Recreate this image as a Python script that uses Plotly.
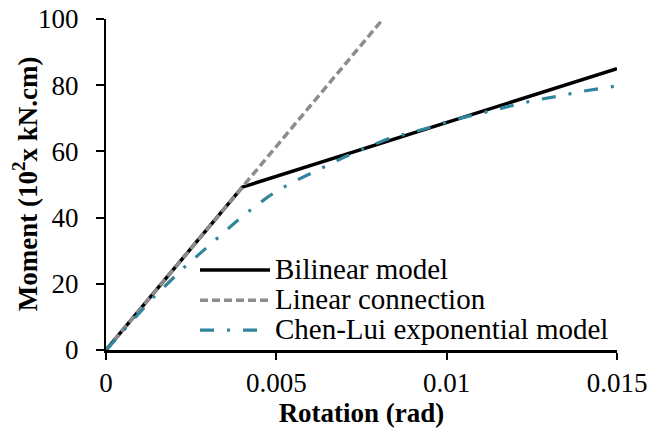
import plotly.graph_objects as go

# Rotation (rad) and moment (10^2 x kN.cm) for each connection model
bilinear_rot = [0.0, 0.004, 0.015]
bilinear_mom = [0.0, 49.2, 85.0]

linear_rot = [0.0, 0.00813]
linear_mom = [0.0, 100.0]

chen_lui_rot = [0.0, 0.0006, 0.0014, 0.0023, 0.0028, 0.0033, 0.0038, 0.0043,
                0.0048, 0.0054, 0.0060, 0.0065, 0.0070, 0.0077, 0.0083, 0.0089,
                0.0096, 0.0101, 0.0108, 0.0114, 0.0120, 0.0126, 0.0133, 0.0140,
                0.0150]
chen_lui_mom = [0.0, 7.0, 16.0, 25.0, 29.6, 34.0, 38.6, 42.8,
                46.6, 50.3, 53.3, 55.8, 58.3, 61.4, 63.9, 65.5,
                67.5, 69.3, 71.0, 72.7, 74.0, 75.5, 76.7, 78.2,
                79.8]

x_ticks = [0, 0.005, 0.01, 0.015]
x_tick_text = ["0", "0.005", "0.01", "0.015"]
y_ticks = [0, 20, 40, 60, 80, 100]

FONT = "Liberation Serif, Times New Roman, serif"
TEAL = "#31859C"
GREY = "#8C8C8C"

series = [
    ("Bilinear model", bilinear_rot, bilinear_mom,
     dict(color="black", width=3.5)),
    ("Linear connection", linear_rot, linear_mom,
     dict(color=GREY, width=3.5, dash="8px,4px")),
    ("Chen-Lui exponential model", chen_lui_rot, chen_lui_mom,
     dict(color=TEAL, width=3.2, dash="14px,13px,3px,13px")),
]

fig = go.Figure()
for name, xs, ys, line in series:
    fig.add_trace(go.Scatter(x=xs, y=ys, mode="lines", name=name, line=line,
                             showlegend=False))

# Legend block inside the plot area (paper coordinates)
key_x0, key_x1, text_x = 0.184, 0.321, 0.327
row_y = [0.242, 0.150, 0.060]
shapes, annotations = [], []
for (name, _, _, line), yk in zip(series, row_y):
    shapes.append(dict(type="line", xref="paper", yref="paper",
                       x0=key_x0, x1=key_x1, y0=yk, y1=yk,
                       line=dict(color=line["color"], width=line["width"],
                                 dash=line.get("dash", "solid"))))
    annotations.append(dict(xref="paper", yref="paper", x=text_x, y=yk + 0.004,
                            xanchor="left", yanchor="middle", showarrow=False,
                            text=name, font=dict(family=FONT, size=29,
                                                 color="black")))

# Vertical axis title
annotations.append(dict(xref="paper", yref="paper", x=-0.159, y=0.503,
                        xanchor="center", yanchor="middle", showarrow=False,
                        textangle=-90,
                        text="<b>Moment (10<sup>2</sup>x kN.cm)</b>",
                        font=dict(family=FONT, size=27, color="black")))

fig.update_layout(
    width=650, height=432,
    margin=dict(l=106, r=33, t=19, b=82, autoexpand=False),
    paper_bgcolor="white", plot_bgcolor="white",
    font=dict(family=FONT, size=27, color="black"),
    shapes=shapes, annotations=annotations,
    xaxis=dict(range=[0, 0.015], tickvals=x_ticks, ticktext=x_tick_text,
               automargin=False,
               showgrid=False, zeroline=False, showline=True,
               linecolor="black", linewidth=2.5,
               ticks="outside", ticklen=7, tickwidth=1.5, tickcolor="black",
               title=dict(text="<b>Rotation (rad)</b>", standoff=4,
                          font=dict(size=27))),
    yaxis=dict(range=[0, 100], tickvals=y_ticks, automargin=False,
               showgrid=False, zeroline=False, showline=True,
               linecolor="black", linewidth=2,
               ticks="outside", ticklen=8, tickwidth=1.5, tickcolor="black",
               ticklabelstandoff=12),
)

fig.write_html("out.html")
